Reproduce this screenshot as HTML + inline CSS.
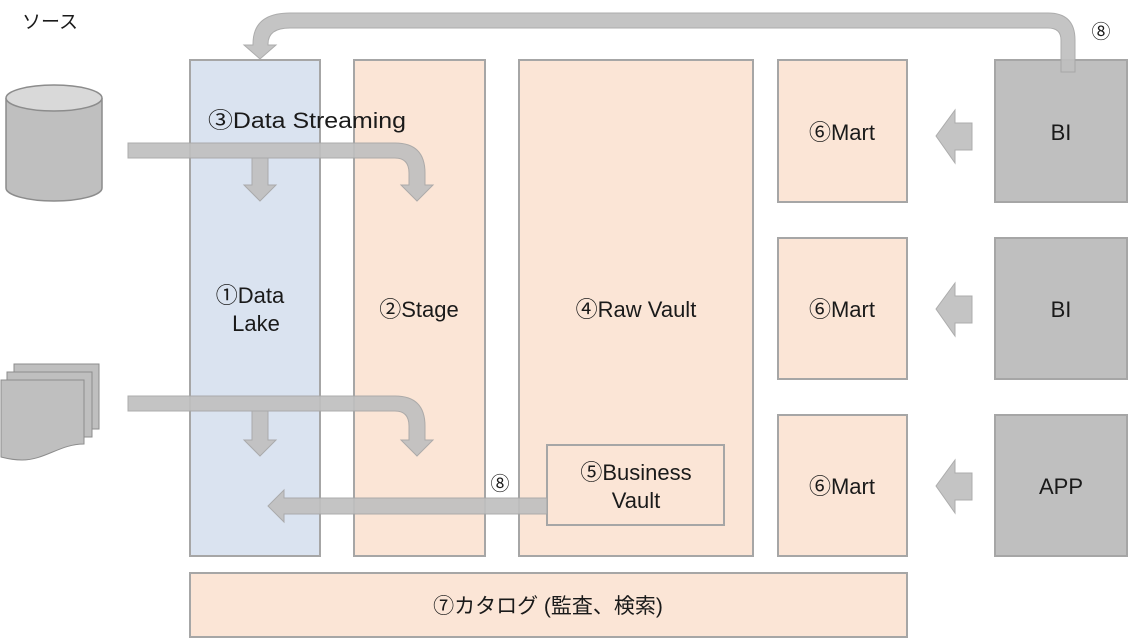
<!DOCTYPE html>
<html><head><meta charset="utf-8"><style>
html,body{margin:0;padding:0;background:#fff;}
svg{display:block;}
text{font-family:"Liberation Sans","Noto Sans CJK JP",sans-serif;fill:#1a1a1a;}
</style></head><body>
<svg width="1129" height="640" viewBox="0 0 1129 640" xmlns="http://www.w3.org/2000/svg">
<g stroke="#a6a6a6" stroke-width="2">
<rect x="190" y="60" width="130" height="496" fill="#dae3f0"/>
<rect x="354" y="60" width="131" height="496" fill="#fbe5d6"/>
<rect x="519" y="60" width="234" height="496" fill="#fbe5d6"/>
<rect x="547" y="445" width="177" height="80" fill="#fbe5d6"/>
<rect x="778" y="60" width="129" height="142" fill="#fbe5d6"/>
<rect x="778" y="238" width="129" height="141" fill="#fbe5d6"/>
<rect x="778" y="415" width="129" height="141" fill="#fbe5d6"/>
<rect x="190" y="573" width="717" height="64" fill="#fbe5d6"/>
<rect x="995" y="60" width="132" height="142" fill="#bfbfbf"/>
<rect x="995" y="238" width="132" height="141" fill="#bfbfbf"/>
<rect x="995" y="415" width="132" height="141" fill="#bfbfbf"/>
</g>
<g stroke="#8c8c8c" stroke-width="1.5" fill="#bfbfbf">
<path d="M6 98 V188 A48 13 0 0 0 102 188 V98"/>
<ellipse cx="54" cy="98" rx="48" ry="13" fill="#d9d9d9"/>
</g>
<g stroke="#8c8c8c" stroke-width="1" fill="#bfbfbf">
<rect x="14" y="364" width="85" height="65"/>
<rect x="7" y="372" width="85" height="65"/>
<path d="M1 380 H84 V444 C60 444 45 460 22 460 C12 460 5 458 1 457 Z"/>
</g>
<g fill="#c0c0c0" stroke="#a6a6a6" stroke-width="1" opacity="0.92">
<path d="M128 143 H395 Q425 143 425 173 V185 H433 L417 201 L401 185 H409 V173 Q409 158 395 158 H128 Z"/>
<path d="M252 158 H268 V185 H276 L260 201 L244 185 H252 Z"/>
<path d="M128 396 H395 Q425 396 425 426 V440 H433 L417 456 L401 440 H409 V426 Q409 411 395 411 H128 Z"/>
<path d="M252 411 H268 V440 H276 L260 456 L244 440 H252 Z"/>
<path d="M547 498 H284 V490 L268 506 L284 522 V514 H547 Z"/>
<path d="M1075 72 V40 Q1075 13 1048 13 H290 Q253 13 253 44 V45 H244 L260 59 L276 45 H268 V44 Q268 28 290 28 H1048 Q1061 28 1061 40 V72 Z"/>
<path d="M972 123 H955 V110 L936 136 L955 163 V150 H972 Z"/>
<path d="M972 296 H955 V283 L936 309 L955 336 V323 H972 Z"/>
<path d="M972 473 H955 V460 L936 486 L955 513 V500 H972 Z"/>
</g>
<g font-size="22" text-anchor="middle">
<text x="50" y="28" font-size="19">ソース</text>
<text x="307" y="128" textLength="198" lengthAdjust="spacingAndGlyphs">③Data Streaming</text>
<text x="250" y="303">①Data</text>
<text x="256" y="331">Lake</text>
<text x="419" y="317">②Stage</text>
<text x="636" y="317">④Raw Vault</text>
<text x="636" y="480">⑤Business</text>
<text x="636" y="508">Vault</text>
<text x="842" y="140">⑥Mart</text>
<text x="842" y="317">⑥Mart</text>
<text x="842" y="494">⑥Mart</text>
<text x="1061" y="140">BI</text>
<text x="1061" y="317">BI</text>
<text x="1061" y="494">APP</text>
<text x="548" y="613" font-size="21">⑦カタログ (監査、検索)</text>
<text x="500" y="490" font-size="19">⑧</text>
<text x="1101" y="38" font-size="19">⑧</text>
</g>
</svg>
</body></html>
